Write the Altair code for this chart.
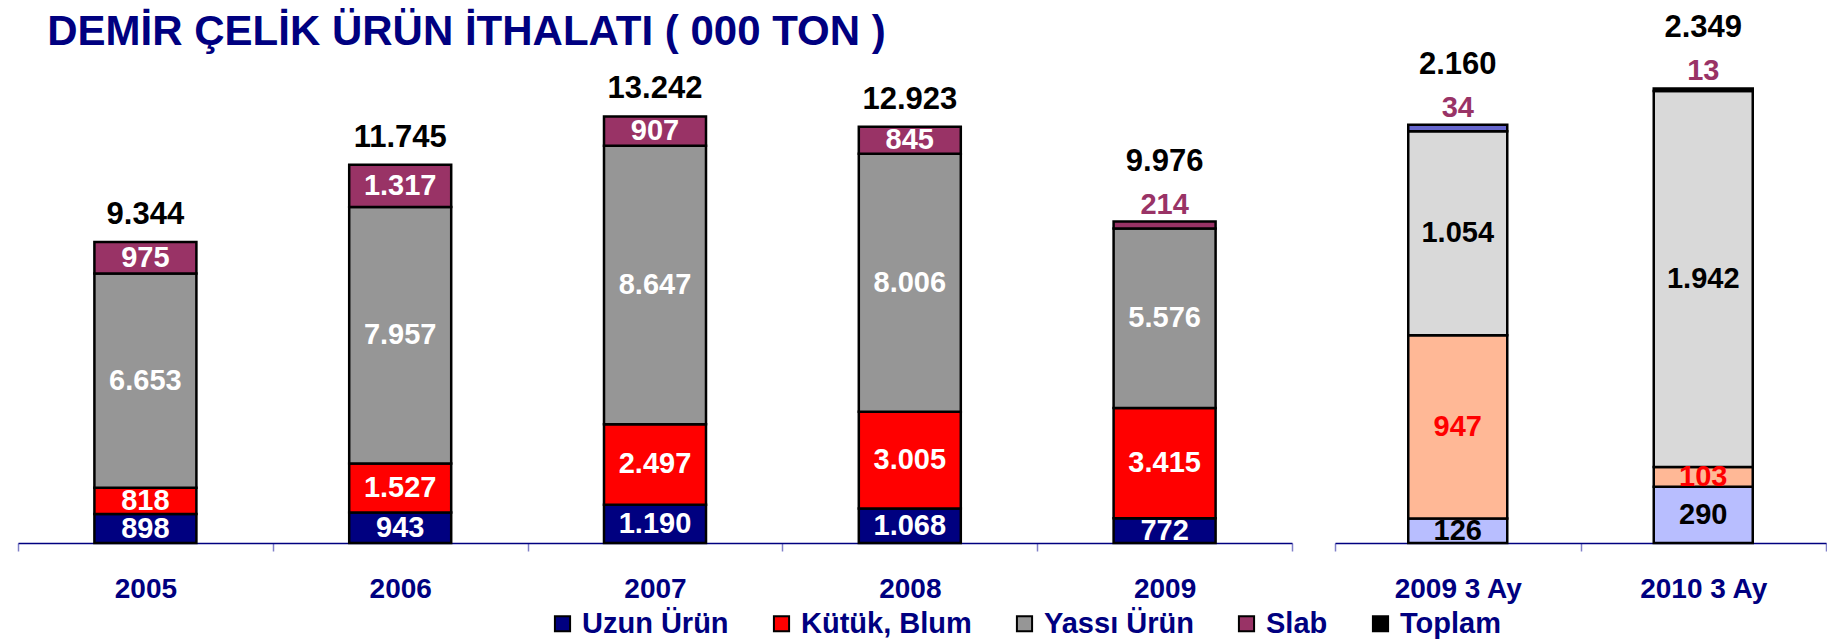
import altair as alt
import pandas as pd

# ---------------- data ----------------
years = ["2005", "2006", "2007", "2008", "2009"]
uzun = [898, 943, 1190, 1068, 772]
kutuk = [818, 1527, 2497, 3005, 3415]
yassi = [6653, 7957, 8647, 8006, 5576]
slab = [975, 1317, 907, 845, 214]
toplam = [9344, 11745, 13242, 12923, 9976]

quarters = ["2009 3 Ay", "2010 3 Ay"]
q_uzun = [126, 290]
q_kutuk = [947, 103]
q_yassi = [1054, 1942]
q_slab = [34, 13]
q_toplam = [2160, 2349]

series_names = ["Uzun Ürün", "Kütük, Blum", "Yassı Ürün", "Slab", "Toplam"]
annual_colors = ["#000080", "#FF0000", "#969696", "#993366", "#000000"]
annual_text = ["#FFFFFF", "#FFFFFF", "#FFFFFF", "#FFFFFF"]
quarter_fill = ["#B8BEFF", "#FFB896", "#D9D9D9", "#6666CC"]
quarter_text = ["#000000", "#FF0000", "#000000", "#993366"]

TITLE = "DEMİR ÇELİK ÜRÜN İTHALATI ( 000 TON )"
FONT = "Liberation Sans, Arial, sans-serif"
NAVY = "#000080"
PAD_L, PAD_T = 9, 3
PLOT_X0, PLOT_Y0 = 17, 78   # where the left plot area starts on the page


def fmt(v):
    return f"{v:,}".replace(",", ".")


def build(cats, cols, totals, fills, textcols):
    rows, trows = [], []
    for i, c in enumerate(cats):
        start = 0
        tot_sum = sum(col[i] for col in cols)
        shift = False
        for s, col, f, tc in zip(series_names[:4], cols, fills, textcols):
            v = col[i]
            outside = (s == "Slab") and (v / tot_sum < 0.05)
            shift = shift or outside
            rows.append(dict(cat=c, series=s, start=start, end=start + v,
                             mid=start + v / 2, label=fmt(v), fill=f, tc=tc,
                             outside=outside))
            start += v
        trows.append(dict(cat=c, top=start, label=fmt(totals[i]), shift=shift))
    return pd.DataFrame(rows), pd.DataFrame(trows)


def panel(cats, cols, totals, fills, textcols, ymax, width, bar_size, legend):
    df, tot = build(cats, cols, totals, fills, textcols)
    x = alt.X("cat:N", sort=cats,
              scale=alt.Scale(paddingInner=0, paddingOuter=0),
              axis=alt.Axis(title=None, labelAngle=0, labelFont=FONT,
                            labelFontSize=28, labelFontWeight="bold",
                            labelColor=NAVY, labelPadding=24,
                            tickBand="extent", tickSize=8, tickWidth=1.5,
                            tickColor="#8080C8", domainColor=NAVY,
                            domainWidth=1.5))
    ysc = alt.Scale(domain=[0, ymax], nice=False)
    base = alt.Chart(df)
    if legend:
        color = alt.Color("series:N",
                          scale=alt.Scale(domain=series_names, range=annual_colors),
                          legend=alt.Legend(title=None, orient="none",
                                            legendX=547 - PLOT_X0,
                                            legendY=609 - PLOT_Y0,
                                            direction="horizontal",
                                            symbolType="square", symbolSize=230,
                                            symbolStrokeColor="black",
                                            symbolStrokeWidth=2,
                                            labelFont=FONT, labelFontSize=29,
                                            labelFontWeight="bold",
                                            labelColor=NAVY, columnPadding=38,
                                            labelOffset=5, labelLimit=300,
                                            padding=0))
    else:
        color = alt.Color("fill:N", scale=None)
    bars = base.mark_bar(size=bar_size, stroke="black", strokeWidth=2.5).encode(
        x=x, y=alt.Y("start:Q", scale=ysc, axis=None), y2="end:Q", color=color)
    inner = base.transform_filter("!datum.outside").mark_text(
        font=FONT, fontSize=29, fontWeight="bold", baseline="middle").encode(
        x=x, y=alt.Y("mid:Q", scale=ysc), text="label:N",
        color=alt.Color("tc:N", scale=None))
    outer = base.transform_filter("datum.outside").mark_text(
        font=FONT, fontSize=29, fontWeight="bold", baseline="middle",
        dy=-17, color="#993366").encode(
        x=x, y=alt.Y("end:Q", scale=ysc), text="label:N")
    tbase = alt.Chart(tot)
    tot_n = tbase.transform_filter("!datum.shift").mark_text(
        font=FONT, fontSize=31, fontWeight="bold", baseline="middle",
        dy=-27, color="black").encode(
        x=x, y=alt.Y("top:Q", scale=ysc), text="label:N")
    tot_s = tbase.transform_filter("datum.shift").mark_text(
        font=FONT, fontSize=31, fontWeight="bold", baseline="middle",
        dy=-60, color="black").encode(
        x=x, y=alt.Y("top:Q", scale=ysc), text="label:N")
    return alt.layer(bars, inner, outer, tot_n, tot_s).properties(
        width=width, height=465)


left = panel(years, [uzun, kutuk, yassi, slab], toplam, annual_colors[:4],
             annual_text, 14434, 1274, 102, True).properties(
    title=alt.TitleParams(TITLE, anchor="start", font=FONT, fontSize=42,
                          fontWeight="bold", color=NAVY, dx=30, offset=19))
right = panel(quarters, [q_uzun, q_kutuk, q_yassi, q_slab], q_toplam,
              quarter_fill, quarter_text, 2402, 491, 99, False)

chart = alt.hconcat(left, right, spacing=41).properties(
    padding={"left": PAD_L, "top": PAD_T, "right": 0, "bottom": 0}
).configure_view(stroke=None)

chart.save("out.html", embed_options={"renderer": "svg", "actions": False})
